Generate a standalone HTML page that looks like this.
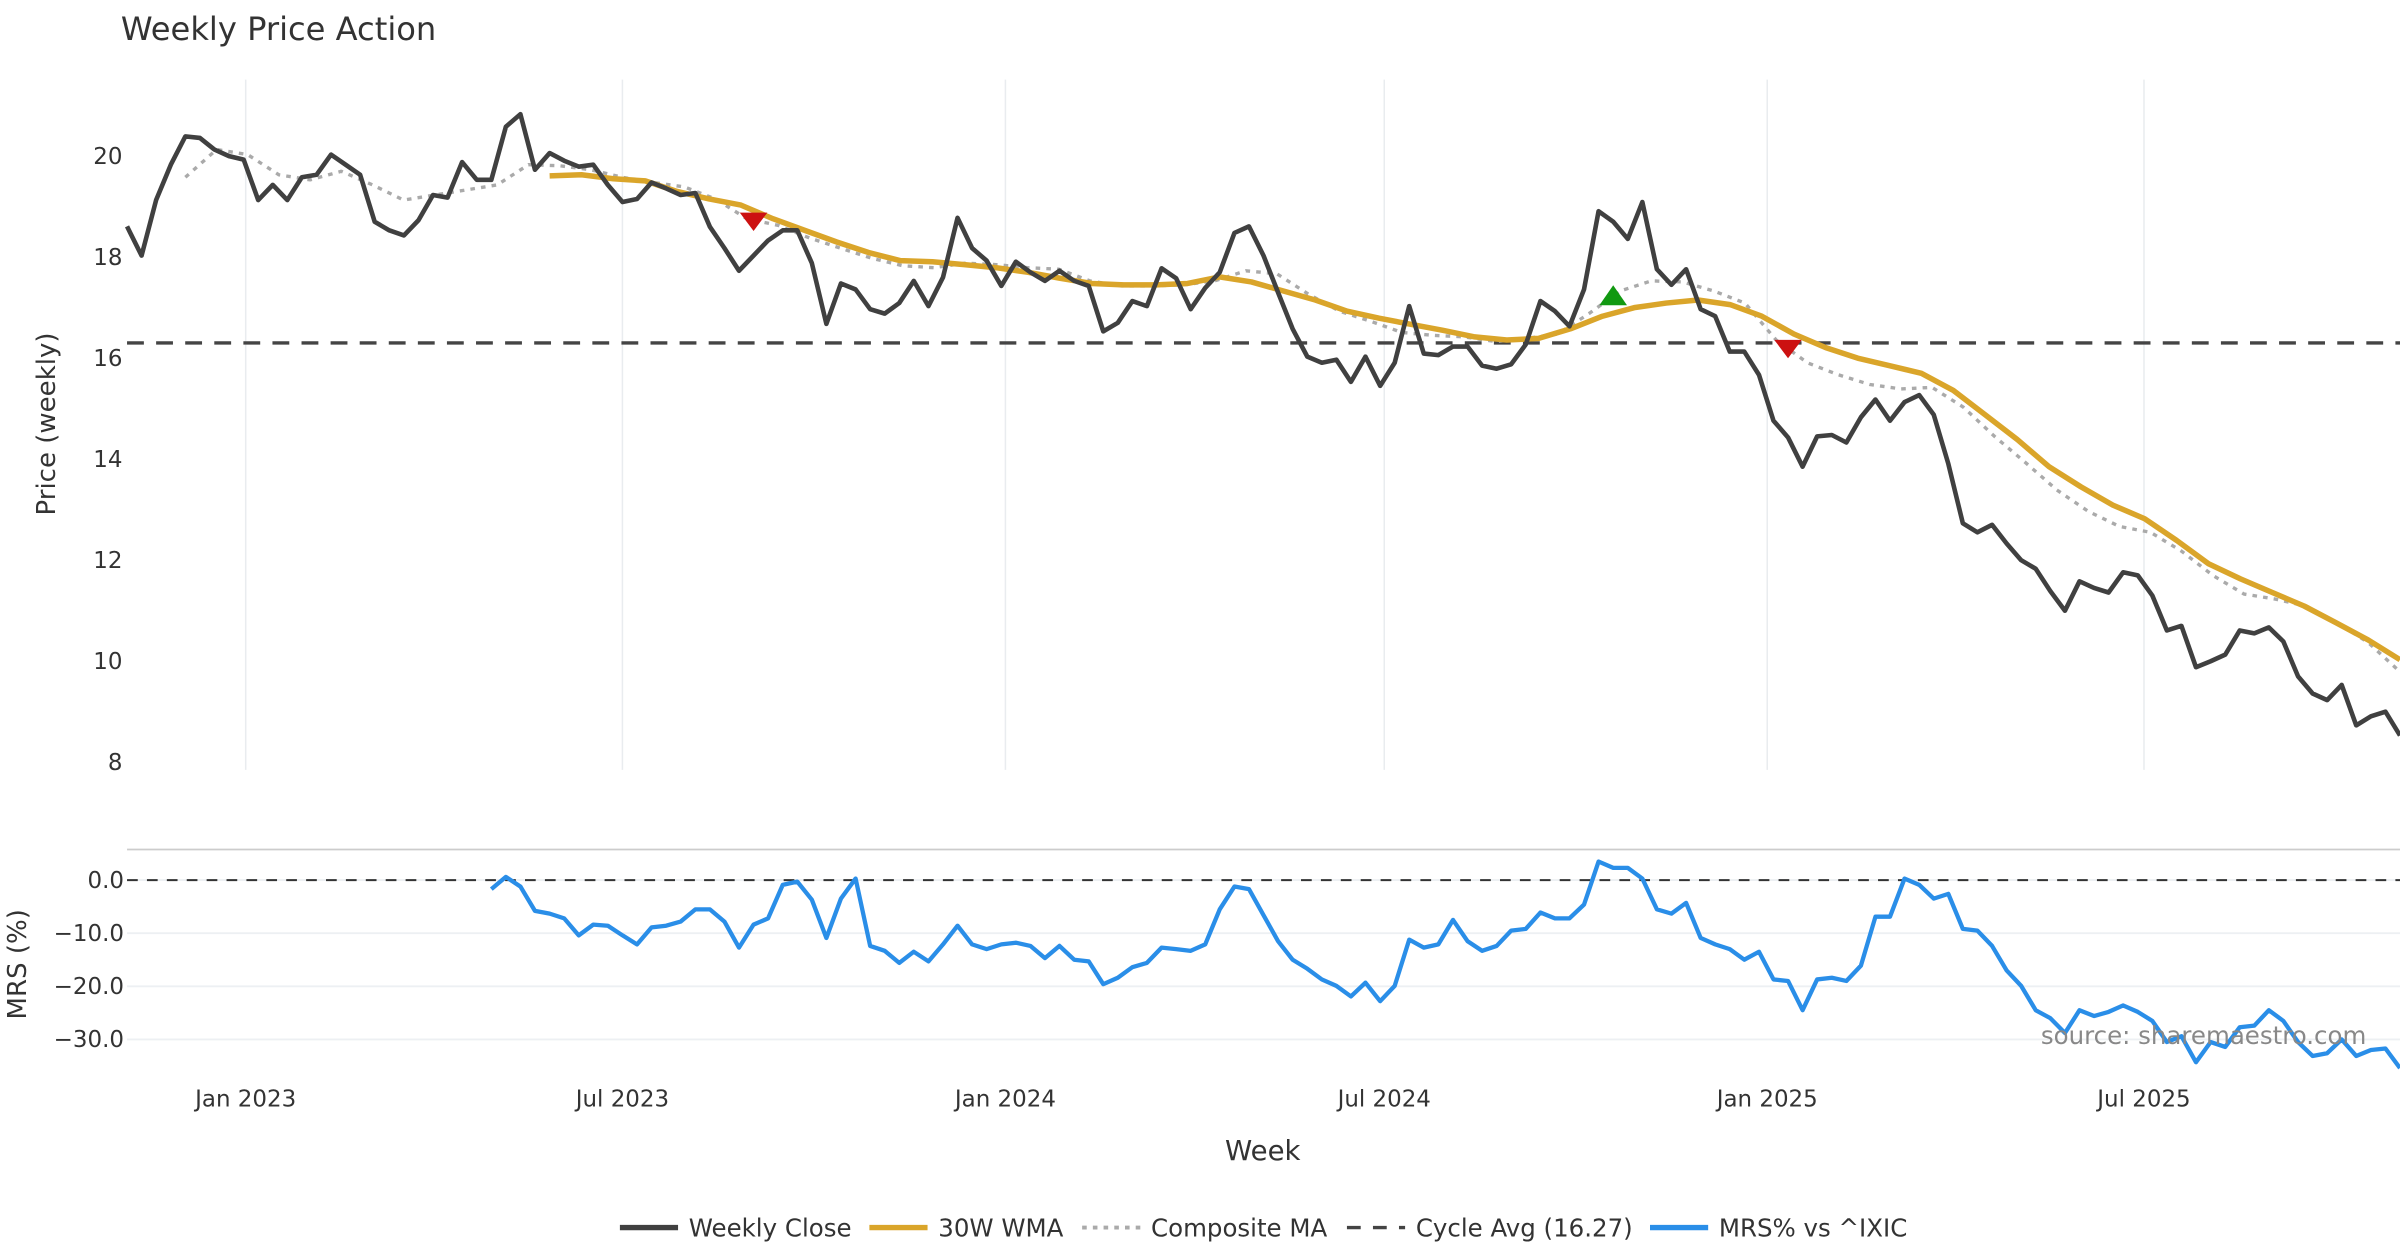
<!DOCTYPE html>
<html><head><meta charset="utf-8"><style>
html,body{margin:0;padding:0;background:#fff;}
svg{display:block;font-family:"DejaVu Sans","Liberation Sans",sans-serif;}
.tick{font-size:15px;fill:#333;}
</style></head><body>
<svg id="chart" width="2400" height="1260" viewBox="0 0 1568 823.2" preserveAspectRatio="none" xmlns="http://www.w3.org/2000/svg">
<text x="79" y="26" font-size="21" fill="#333">Weekly Price Action</text>
<text transform="translate(36,277) rotate(-90)" text-anchor="middle" font-size="17" fill="#333">Price (weekly)</text>
<text transform="translate(17,630) rotate(-90)" text-anchor="middle" font-size="17" fill="#333">MRS (%)</text>
<text x="825" y="758" text-anchor="middle" font-size="18" fill="#333">Week</text>
<g id="grid"></g>
<g id="series"></g>
<text x="1546" y="682" text-anchor="end" font-size="16" fill="#888">source: sharemaestro.com</text>
<g id="legend"></g>
</svg>
<script>
const closeVals=[18.58,18.0,19.1,19.8,20.36,20.33,20.1,19.97,19.9,19.1,19.4,19.1,19.55,19.6,20.0,19.8,19.6,18.67,18.5,18.4,18.7,19.2,19.15,19.85,19.5,19.5,20.55,20.8,19.7,20.03,19.88,19.76,19.8,19.4,19.06,19.12,19.45,19.33,19.2,19.24,18.57,18.15,17.7,18.0,18.3,18.5,18.5,17.85,16.65,17.45,17.33,16.94,16.85,17.06,17.5,17.0,17.57,18.75,18.15,17.9,17.4,17.88,17.67,17.5,17.7,17.5,17.4,16.5,16.67,17.1,17.0,17.75,17.55,16.94,17.36,17.67,18.45,18.58,18.0,17.27,16.55,16.0,15.88,15.94,15.5,16.0,15.42,15.88,17.0,16.06,16.03,16.2,16.2,15.82,15.76,15.85,16.24,17.1,16.9,16.6,17.33,18.88,18.67,18.33,19.06,17.73,17.42,17.73,16.94,16.8,16.1,16.1,15.64,14.73,14.4,13.82,14.42,14.45,14.3,14.8,15.15,14.73,15.1,15.24,14.85,13.88,12.7,12.52,12.67,12.3,11.97,11.8,11.36,10.97,11.55,11.42,11.33,11.73,11.67,11.27,10.58,10.67,9.85,9.97,10.1,10.58,10.52,10.64,10.36,9.67,9.33,9.2,9.5,8.7,8.88,8.97,8.5];
const wmaVals=[19.58,19.6,19.52,19.48,19.27,19.12,19.0,18.73,18.5,18.27,18.06,17.9,17.88,17.82,17.76,17.67,17.55,17.45,17.42,17.42,17.45,17.58,17.48,17.3,17.12,16.9,16.76,16.64,16.52,16.39,16.33,16.36,16.55,16.8,16.97,17.06,17.12,17.03,16.8,16.45,16.18,15.97,15.82,15.67,15.33,14.85,14.36,13.82,13.42,13.06,12.79,12.36,11.9,11.6,11.33,11.06,10.73,10.39,10.0];
const compVals=[19.55,20.1,20.0,19.6,19.5,19.67,19.4,19.1,19.2,19.3,19.4,19.8,19.78,19.7,19.55,19.45,19.36,19.12,18.73,18.6,18.35,18.15,17.95,17.8,17.76,17.85,17.82,17.76,17.73,17.5,17.4,17.4,17.42,17.5,17.7,17.64,17.24,16.9,16.7,16.48,16.42,16.39,16.3,16.36,16.45,16.85,17.3,17.5,17.48,17.3,17.06,16.33,15.88,15.64,15.45,15.36,15.39,15.0,14.42,13.9,13.36,12.94,12.64,12.52,12.15,11.67,11.3,11.2,11.06,10.73,10.33,9.76];
const mrsVals=[-1.7,0.6,-1.2,-5.8,-6.3,-7.2,-10.4,-8.4,-8.6,-10.4,-12.1,-8.9,-8.6,-7.8,-5.5,-5.5,-7.8,-12.7,-8.4,-7.2,-0.9,-0.3,-3.7,-10.9,-3.5,0.3,-12.4,-13.3,-15.6,-13.5,-15.3,-12.1,-8.6,-12.1,-13.0,-12.1,-11.8,-12.4,-14.7,-12.4,-15.0,-15.3,-19.6,-18.4,-16.4,-15.6,-12.7,-13.0,-13.3,-12.1,-5.5,-1.2,-1.7,-6.6,-11.5,-15.0,-16.7,-18.7,-19.9,-21.9,-19.3,-22.8,-19.9,-11.2,-12.7,-12.1,-7.5,-11.5,-13.3,-12.4,-9.5,-9.2,-6.1,-7.2,-7.2,-4.6,3.5,2.3,2.3,0.3,-5.5,-6.3,-4.3,-10.9,-12.1,-13.0,-15.0,-13.5,-18.7,-19.0,-24.5,-18.7,-18.4,-19.0,-16.1,-6.9,-6.9,0.3,-0.9,-3.5,-2.6,-9.2,-9.5,-12.4,-17.0,-19.9,-24.5,-26.0,-28.8,-24.5,-25.6,-24.8,-23.6,-24.8,-26.5,-30.5,-29.4,-34.3,-30.5,-31.4,-27.7,-27.4,-24.5,-26.5,-30.5,-33.1,-32.6,-30.0,-33.1,-32.0,-31.7,-35.4];
const cycleAvg=16.27;
const signalWeeks=[43,102,114];
const signalPrices=[18.67,17.2,16.15];
const signalTypes=["sell","buy","sell"];
const tickLabels=["Jan 2023","Jul 2023","Jan 2024","Jul 2024","Jan 2025","Jul 2025"];
const tickDates=["2023-01-01","2023-07-01","2024-01-01","2024-07-01","2025-01-01","2025-07-01"];
const priceTicks=[8,10,12,14,16,18,20];
const mrsTicks=[0,-10,-20,-30];
const mrsTickLabels=["0.0","\u221210.0","\u221220.0","\u221230.0"];
const startDate="2022-11-05";
const wmaStartWeek=29, compStartWeek=4;

const NS="http://www.w3.org/2000/svg";
const X0=83,X1=1568,N=closeVals.length;
const xw=w=>X0+w*(X1-X0)/(N-1);
const yp=v=>101+(20-v)*33;
const ym=v=>575-v*3.47;
const wmaStep=(N-1-wmaStartWeek)/(wmaVals.length-1);
const compStep=(N-1-compStartWeek)/(compVals.length-1);
function mk(tag,attrs,parent){const e=document.createElementNS(NS,tag);for(const k in attrs)e.setAttribute(k,attrs[k]);parent.appendChild(e);return e;}
const grid=document.getElementById('grid'),ser=document.getElementById('series'),leg=document.getElementById('legend');
const weekOf=d=>(new Date(d)-new Date(startDate))/864e5/7;

tickDates.forEach((d,i)=>{const x=xw(weekOf(d));
 let l=mk('line',{x1:x,x2:x,y1:52,y2:503,stroke:'#e9ecef','stroke-width':1},grid);
 
 
 let t=mk('text',{x:x,y:723,'text-anchor':'middle',class:'tick'},grid);t.textContent=tickLabels[i];
 
 
});
priceTicks.forEach(v=>{let t=mk('text',{x:80,y:yp(v)+6,'text-anchor':'end',class:'tick'},grid);t.textContent=v;
 
 });
let bl=mk('line',{x1:X0,x2:X1,y1:555,y2:555,stroke:'#ccc','stroke-width':1.2},grid);


mrsTicks.forEach((v,i)=>{let l=mk('line',{x1:X0,x2:X1,y1:ym(v),y2:ym(v),stroke:'#edf0f3','stroke-width':1.2},grid);
 
 
 let t=mk('text',{x:81,y:ym(v)+5,'text-anchor':'end',class:'tick'},grid);t.textContent=mrsTickLabels[i];
 
 });
let z=mk('line',{x1:X0,x2:X1,y1:ym(0),y2:ym(0),stroke:'#333','stroke-width':1.3,'stroke-dasharray':'7,6'},ser);


let ca=mk('line',{x1:X0,x2:X1,y1:yp(cycleAvg),y2:yp(cycleAvg),stroke:'#444','stroke-width':2.2,'stroke-dasharray':'11,8'},ser);



function poly(pts,attrs){return mk('polyline',Object.assign({points:pts.map(p=>p[0].toFixed(1)+','+p[1].toFixed(1)).join(' '),fill:'none','stroke-linejoin':'round'},attrs),ser);}
let cp=poly(compVals.map((v,i)=>[xw(compStartWeek+i*compStep),yp(v)]),{stroke:'#aaa','stroke-width':2.2,'stroke-dasharray':'3,4'});


let wp=poly(wmaVals.map((v,i)=>[xw(wmaStartWeek+i*wmaStep),yp(v)]),{stroke:'#DAA52A','stroke-width':3.6});


let clp=poly(closeVals.map((v,i)=>[xw(i),yp(v)]),{stroke:'#404040','stroke-width':3});


const ms=N-mrsVals.length;
let mp=poly(mrsVals.map((v,i)=>[xw(ms+i),ym(v)]),{stroke:'#2A8EE8','stroke-width':2.8});


signalWeeks.forEach((w,i)=>{const x=xw(w),y=yp(signalPrices[i]);
 const pts=signalTypes[i]==='sell'?`${x-9},${y-6} ${x+9},${y-6} ${x},${y+6}`:`${x-9},${y+6} ${x+9},${y+6} ${x},${y-7}`;
 let p=mk('polygon',{points:pts,fill:signalTypes[i]==='sell'?'#CC1111':'#119911'},ser);
 
 });

const legNames=["Weekly Close","30W WMA","Composite MA","Cycle Avg (16.27)","MRS% vs ^IXIC"];
const legX=[405,568,707,880,1078];
const legStyle=[['#404040',3.5,''],['#DAA52A',3.5,''],['#aaa',2.5,'3,4'],['#444',2.2,'9,8'],['#2A8EE8',3.5,'']];
legNames.forEach((n,i)=>{const g=mk('g',{},leg);
 
 
 mk('line',{x1:legX[i],x2:legX[i]+38,y1:802,y2:802,stroke:legStyle[i][0],'stroke-width':legStyle[i][1],'stroke-dasharray':legStyle[i][2]},g);
 const t=mk('text',{x:legX[i]+45,y:808,'font-size':16,fill:'#333'},g);t.textContent=n;});
</script>
</body></html>
